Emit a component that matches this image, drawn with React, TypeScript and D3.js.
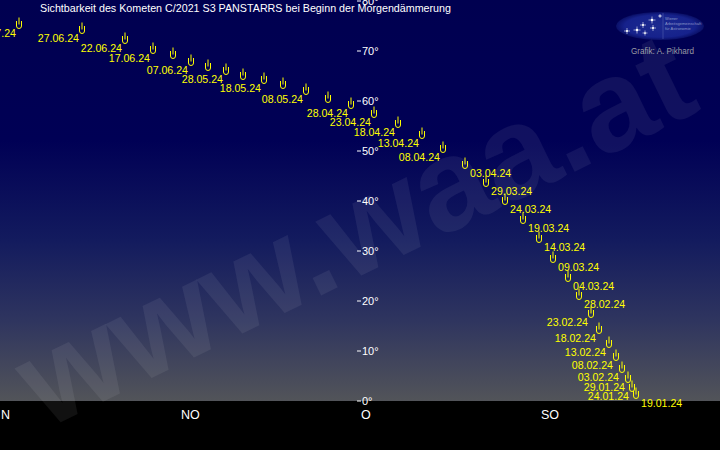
import React from "react";
import * as d3 from "d3";

const W = 720;
const H = 450;

const title = "Sichtbarkeit des Kometen C/2021 S3 PANSTARRS bei Beginn der Morgendämmerung";

const dates = [
  "19.01.24", "24.01.24", "29.01.24", "03.02.24", "08.02.24", "13.02.24", "18.02.24", "23.02.24",
  "28.02.24", "04.03.24", "09.03.24", "14.03.24", "19.03.24", "24.03.24", "29.03.24", "03.04.24",
  "08.04.24", "13.04.24", "18.04.24", "23.04.24", "28.04.24", "03.05.24", "08.05.24", "13.05.24",
  "18.05.24", "23.05.24", "28.05.24", "02.06.24", "07.06.24", "12.06.24", "17.06.24", "22.06.24",
  "27.06.24", "02.07.24",
];
const azimuth = [
  159, 158, 157, 155.5, 154, 152.25, 149.75, 147.75,
  144.75, 142, 138.25, 134.75, 130.75, 126.25, 121.5, 116.25,
  110.75, 105.5, 99.5, 93.5, 87.75, 82, 76.5, 70.75,
  66, 60.75, 56.5, 52, 47.75, 43.25, 38.25, 31.25,
  20.5, 4.75,
];
const altitude = [
  1.6, 3, 4.8, 6.8, 9.2, 11.8, 14.6, 17.8,
  21.4, 25, 28.8, 32.8, 36.6, 40.4, 44, 47.6,
  50.8, 53.6, 55.8, 57.8, 59.6, 60.8, 62.4, 63.6,
  64.6, 65.4, 66.4, 67.2, 68.2, 69.6, 70.6, 72.6,
  74.6, 75.6,
];
const unlabeled = ["03.05.24", "13.05.24", "23.05.24", "02.06.24", "12.06.24"];
const labelsRight = [
  "19.01.24", "28.02.24", "04.03.24", "09.03.24", "14.03.24", "19.03.24", "24.03.24", "29.03.24", "03.04.24",
];

const altTicks = [0, 10, 20, 30, 40, 50, 60, 70, 80];
const dirNames = ["N", "NO", "O", "SO"];
const dirAz = [0, 45, 90, 135];

const logoLines = ["Wiener", "Arbeitsgemeinschaft", "für Astronomie"];
const credit = "Grafik: A. Pikhard";
const watermark = "www.waa.at";

const FONT = "'Liberation Sans', Arial, sans-serif";
const YELLOW = "#ffff00";

const stars = [
  [652, 20, 3.5], [643, 25, 3], [637, 30, 3.5], [627, 31, 3], [653, 28, 3], [645, 33, 2.5], [660, 16, 2],
];

function CometGlyph({ x, y }: { x: number; y: number }) {
  const p = `M${x - 2.5},${y - 2} V${y + 3} Q${x - 2.5},${y + 5.5} ${x},${y + 5.5} Q${x + 2.5},${y + 5.5} ${x + 2.5},${y + 3} V${y - 2}`;
  return (
    <g stroke={YELLOW} strokeWidth={1} fill="none">
      <path d={p} />
      <line x1={x} x2={x} y1={y - 5.5} y2={y + 1.5} />
    </g>
  );
}

function Sparkle({ x, y, r }: { x: number; y: number; r: number }) {
  return (
    <g>
      <circle cx={x} cy={y} r={r * 0.35} fill="#ffffff" />
      <line x1={x - r} x2={x + r} y1={y} y2={y} stroke="#ffffff" strokeWidth={0.7} opacity={0.8} />
      <line x1={x} x2={x} y1={y - r} y2={y + r} stroke="#ffffff" strokeWidth={0.7} opacity={0.8} />
    </g>
  );
}

export default function App() {
  const x = d3.scaleLinear().domain([0, 180]).range([0, 720]);
  const y = d3.scaleLinear().domain([0, 80]).range([401, 1]);

  const pts = dates.map((d, i) => ({ date: d, az: azimuth[i], alt: altitude[i] }));

  return (
    <svg
      width={W}
      height={H}
      viewBox={`0 0 ${W} ${H}`}
      style={{ position: "fixed", left: 0, top: 0, display: "block" }}
      fontFamily={FONT}
    >
      <defs>
        <linearGradient id="sky" x1="0" y1="0" x2="0" y2="1">
          <stop offset="0" stopColor="#000050" />
          <stop offset="0.35" stopColor="#000055" />
          <stop offset="0.6" stopColor="#131b5e" />
          <stop offset="0.8" stopColor="#2f355f" />
          <stop offset="1" stopColor="#525459" />
        </linearGradient>
        <radialGradient id="logo" cx="0.5" cy="0.5" r="0.5">
          <stop offset="0" stopColor="#1c2a90" />
          <stop offset="0.8" stopColor="#16228c" />
          <stop offset="1" stopColor="#0a1068" />
        </radialGradient>
      </defs>

      <rect x={0} y={0} width={W} height={y(0)} fill="url(#sky)" />
      <rect x={0} y={y(0)} width={W} height={H - y(0)} fill="#000000" />

      {/* logo */}
      <ellipse cx={660} cy={26} rx={44} ry={14} fill="url(#logo)" />
      <line x1={663} x2={663} y1={13} y2={39} stroke="#5060b0" strokeWidth={0.6} />
      {stars.map((s, i) => (
        <Sparkle key={i} x={s[0]} y={s[1]} r={s[2]} />
      ))}
      {logoLines.map((t, i) => (
        <text key={t} x={665} y={20 + i * 5} fontSize={4} fill="#8a94c8">
          {t}
        </text>
      ))}
      <text x={631} y={54} fontSize={9} fill="#9a9aa2" textLength={63} lengthAdjust="spacingAndGlyphs">
        {credit}
      </text>

      {/* title */}
      <text x={40} y={12} fontSize={11.5} fill="#ffffff" textLength={411} lengthAdjust="spacingAndGlyphs">
        {title}
      </text>

      {/* altitude axis */}
      {altTicks.map((a) => (
        <g key={a}>
          <line x1={357} x2={361} y1={y(a)} y2={y(a)} stroke="#ffffff" strokeWidth={1} />
          <text x={362} y={y(a)} dy="0.36em" fontSize={11} fill="#ffffff">
            {`${a}°`}
          </text>
        </g>
      ))}

      {/* direction labels */}
      {dirNames.map((n, i) => (
        <text key={n} x={x(dirAz[i]) + 1} y={419} fontSize={12.5} fill="#ffffff">
          {n}
        </text>
      ))}

      {/* comet positions */}
      {pts.map((p) => (
        <CometGlyph key={p.date} x={x(p.az)} y={y(p.alt)} />
      ))}
      {pts
        .filter((p) => !unlabeled.includes(p.date))
        .map((p) => {
          const right = labelsRight.includes(p.date);
          return (
            <text
              key={"l" + p.date}
              x={right ? x(p.az) + 5 : x(p.az) - 3}
              y={y(p.alt) + 10}
              dy="0.36em"
              textAnchor={right ? "start" : "end"}
              fontSize={10.6}
              fill={YELLOW}
            >
              {p.date}
            </text>
          );
        })}

      {/* watermark */}
      <text
        x={45}
        y={430}
        transform="rotate(-26 45 430)"
        fontSize={130}
        fontWeight="bold"
        fill="#ffffff"
        fillOpacity={0.065}
      >
        {watermark}
      </text>
    </svg>
  );
}
